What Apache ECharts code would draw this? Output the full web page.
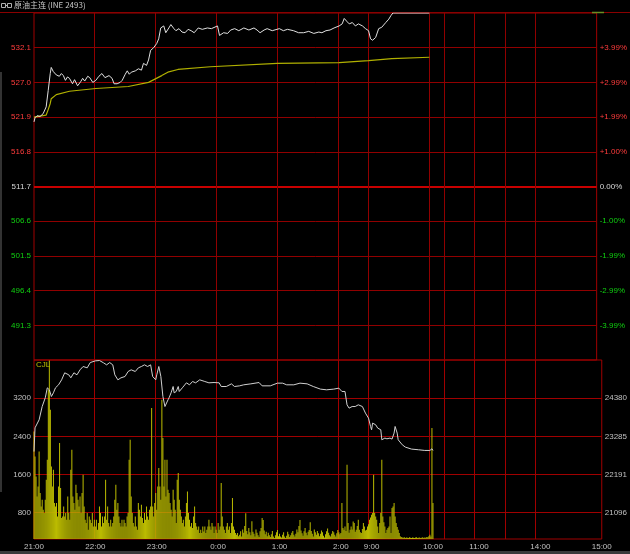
<!DOCTYPE html>
<html>
<head>
<meta charset="utf-8">
<script src="https://cdn.jsdelivr.net/npm/echarts@6/dist/echarts.min.js"></script>
<style>html,body{margin:0;padding:0;background:#000;}#c{width:630px;height:554px;}</style>
</head>
<body>
<div id="c"></div>
<script>
// ---------- DATA ----------
const baseClose = 511.7;
const priceTicks = [491.3, 496.4, 501.5, 506.6, 511.7, 516.8, 521.9, 527.0, 532.1];
const volumeTicks = [800, 1600, 2400, 3200];
const oiTicks = [21096, 22191, 23285, 24380];

const tickAt = ['21:00','22:00','23:00','0:00','1:00','2:00','2:30','10:00','11:00','14:00','15:00'];
const tickLabels = ['21:00','22:00','23:00','0:00','1:00','2:00','9:00','10:00','11:00','14:00','15:00'];
const gridAt = ['22:00','23:00','0:00','1:00','2:00','2:30','10:00','10:15','11:00','11:30','14:00'];

const priceTimes = ['21:00','21:01','21:03','21:06','21:09','21:12','21:14','21:16','21:17','21:19','21:20','21:22','21:25','21:27','21:29','21:31','21:33','21:35','21:38','21:40','21:43','21:46','21:48','21:50','21:53','21:55','21:58',
 '22:01','22:04','22:07','22:10','22:14','22:17','22:19','22:22','22:25','22:27','22:30','22:32','22:34','22:36','22:40','22:43','22:46','22:48','22:51','22:53','22:55','22:58',
 '23:01','23:03','23:05','23:08','23:10','23:13','23:15','23:18','23:20','23:23','23:26','23:29','23:32','23:35','23:38','23:42','23:46','23:51','23:55',
 '0:01','0:03','0:07','0:11','0:14','0:18','0:22','0:27','0:32','0:37','0:40','0:43','0:47','0:50','0:55',
 '1:02','1:06','1:10','1:16','1:21','1:26','1:31','1:36','1:41','1:44','1:48','1:52','1:56',
 '2:01','2:04','2:06','2:09','2:11','2:14','2:17','2:20','2:24','2:27','2:30',
 '9:02','9:04','9:07','9:10','9:13','9:17','9:20','9:22','9:24','10:00'];
const priceValues = [521.2,521.8,522.1,522.0,522.4,523.4,525.8,528.3,529.2,528.6,528.7,528.1,527.9,528.3,528.0,527.3,527.8,527.6,526.8,527.4,526.5,527.1,527.6,527.2,527.9,527.7,527.0,
 527.3,527.9,528.3,527.7,528.0,527.6,526.8,526.8,527.0,527.3,528.2,528.7,528.2,528.5,528.7,529.0,528.8,529.8,529.5,530.3,531.7,532.1,
 532.7,533.4,535.0,535.3,534.3,535.0,535.5,534.9,534.6,534.9,534.4,534.3,534.8,534.6,534.3,535.0,534.8,535.0,534.9,
 535.3,533.9,534.3,534.2,534.7,534.9,534.6,535.0,534.7,535.0,534.7,534.3,534.7,534.9,534.6,
 534.9,534.6,534.8,534.6,534.3,534.3,534.5,534.2,534.4,534.3,534.6,534.7,535.0,
 535.3,535.6,536.4,535.9,535.6,535.8,535.3,535.6,535.3,534.9,534.6,
 533.4,533.2,533.6,534.9,535.1,535.8,536.3,536.8,537.2,537.2];

const avgTimes = ['21:00','21:12','21:14','21:16','21:17','21:22','21:35','22:01','22:33','22:53','23:06','23:12','23:22','23:54','1:00','2:01','2:30','9:23','10:00'];
const avgValues = [521.9,522.2,523.0,523.9,524.6,525.2,525.7,526.1,526.4,527.0,528.0,528.5,528.9,529.3,529.8,529.9,530.2,530.5,530.7];

// volume per minute from 21:00 to 10:00
const volumes = [
 2503,1980,1561,1142,1352,2085,1212,933,1072,863,
 793,1072,1491,1910,3376,3990,2957,1770,1352,1701,
 1003,933,1003,723,1352,2259,1317,689,723,933,
 723,793,654,1142,793,654,1701,2119,1142,1003,
 863,1387,1212,1072,933,1142,793,1212,1596,933,
 654,584,793,444,723,654,584,793,514,654,
 514,654,444,584,933,793,514,723,584,723,
 1491,654,933,584,514,654,514,584,723,1072,
 1387,863,1003,723,584,514,654,514,654,584,
 514,723,793,1910,2329,1142,793,584,514,723,
 514,444,1003,863,723,968,689,584,793,654,
 933,723,654,863,933,2992,933,723,1003,1212,
 863,1352,1736,1352,1072,3166,2364,1352,1910,1142,
 1910,1282,1212,1003,863,723,1282,1072,863,584,
 1491,1631,1072,863,723,584,654,514,723,1003,
 1247,793,654,514,584,479,723,933,584,514,
 444,514,374,444,374,514,409,514,374,444,
 514,654,514,444,584,514,374,514,444,374,
 584,444,514,1421,723,514,444,374,514,584,
 444,514,374,584,1107,514,444,374,340,374,
 305,340,410,300,450,380,520,790,420,350,
 480,390,330,620,400,360,300,450,380,330,
 290,410,480,690,650,430,350,400,310,380,
 330,290,350,420,300,270,330,390,440,310,
 360,300,280,340,390,300,270,320,400,350,
 290,330,380,420,340,300,360,450,390,520,
 650,430,370,320,410,480,380,330,400,440,
 600,420,360,300,450,390,340,420,370,310,
 360,430,390,320,280,350,410,470,380,330,
 300,360,420,390,340,300,370,440,390,350,
 374,1003,480,444,514,420,1805,584,380,444,
 514,450,619,584,400,444,520,654,444,390,
 374,460,584,514,430,444,514,560,654,700,
 758,793,1596,793,723,654,514,374,584,793,
 1910,723,600,514,374,444,480,514,723,374,
 898,933,1003,723,584,500,444,374,305,290,
 280,275,285,270,280,275,270,285,275,270,
 280,275,270,280,285,270,275,280,270,275,
 285,270,280,275,290,285,305,340,300,2573,
 1003];

const oiTimes = ['21:00','21:01','21:05','21:08','21:11','21:13','21:15','21:17','21:19','21:21','21:24','21:27','21:30','21:34','21:36','21:39','21:42','21:45','21:48','21:52','21:55',
 '22:00','22:04','22:08','22:11','22:14','22:17','22:19','22:22','22:25','22:29','22:32','22:35','22:39','22:42','22:45','22:48','22:51','22:54','22:56','22:59',
 '23:00','23:02','23:03','23:04','23:06','23:08','23:09','23:11','23:12','23:14','23:16','23:17','23:19','23:21','23:22','23:25','23:29','23:32','23:35','23:38','23:42','23:47','23:51','23:56',
 '0:01','0:03','0:08','0:13','0:16','0:21','0:25','0:32','0:40','0:43','0:51','0:58',
 '1:03','1:07','1:14','1:20','1:27','1:33','1:40','1:46','1:53','1:58',
 '2:01','2:02','2:04','2:05','2:06','2:08','2:11','2:14','2:17','2:21','2:24','2:27','2:29','2:30',
 '9:01','9:04','9:06','9:09','9:10','9:13','9:15','9:18','9:20','9:22','9:23','9:25','9:26','9:30','9:33','9:39','9:46','9:52','9:57','9:59','10:00'];
const oiValues = [22850,23530,23760,24141,24391,24677,24620,24428,24534,24677,24763,24906,25107,25050,24964,25107,25050,25193,25288,25250,25402,
 25450,25460,25393,25336,25402,25336,25050,24906,24964,25002,25145,25193,25145,25250,25288,25336,25288,25336,25002,24906,
 25050,25288,25250,25002,24428,24141,24105,24333,24391,24534,24715,24534,24572,24715,24572,24677,24820,24763,24858,24820,24906,24858,24820,24829,
 24820,24715,24715,24791,24715,24734,24763,24791,24829,24734,24734,24811,
 24811,24763,24763,24811,24791,24715,24640,24620,24640,24668,
 24572,24525,24572,24525,24190,24095,24141,24141,24190,24141,23952,23809,23569,23474,
 23666,23617,23522,23474,23188,23236,23216,23236,23207,23379,23569,23379,23188,23044,22978,22921,22901,22882,22882,22930,22880];

const titleText = '原油主连 (INE 2493)';

// ---------- AXIS CATEGORIES (trading minutes) ----------
function buildMinutes() {
  const sessions = [[1260, 1590], [541, 615], [631, 690], [811, 900]];
  const out = [];
  sessions.forEach(([a, b]) => {
    for (let m = a; m <= b; m++) {
      const mm = m % 1440;
      const h = Math.floor(mm / 60), mi = mm % 60;
      out.push(h + ':' + (mi < 10 ? '0' : '') + mi);
    }
  });
  return out;
}
const minutes = buildMinutes();

const zip = (t, v) => t.map((x, i) => [x, v[i]]);
const pMin = baseClose - 25.5, pMax = baseClose + 25.5;
const vMin = 250, vMax = 4000;
const oiAt = v => 21096 + (v - 800) * (24380 - 21096) / 2400;

const FONT = 'Liberation Sans, Arial, sans-serif';
const upDownColor = v => (Math.abs(v - baseClose) < 1e-6 ? '#d8d8d8' : (v > baseClose ? '#ff3c3c' : '#10d010'));

const chart = echarts.init(document.getElementById('c'), null, { renderer: 'canvas' });

const xBase = {
  type: 'category', data: minutes, boundaryGap: false,
  axisLine: { show: false }, axisTick: { show: false },
  splitLine: { show: false }
};

const staticGraphics = [
  { type: 'line', shape: { x1: 0, y1: 12.5, x2: 630, y2: 12.5 }, style: { stroke: '#8a0000', lineWidth: 1 } },
  { type: 'line', shape: { x1: 592, y1: 12.5, x2: 604, y2: 12.5 }, style: { stroke: '#6b8e23', lineWidth: 1.5 }, z: 10 },
  { type: 'rect', shape: { x: 1.5, y: 3.5, width: 4, height: 4 }, style: { fill: 'none', stroke: '#b0b0b0', lineWidth: 1 } },
  { type: 'line', shape: { x1: 5.5, y1: 5.5, x2: 7.5, y2: 5.5 }, style: { stroke: '#b0b0b0', lineWidth: 1 } },
  { type: 'rect', shape: { x: 7.5, y: 3.5, width: 4, height: 4 }, style: { fill: 'none', stroke: '#b0b0b0', lineWidth: 1 } },
  { type: 'text', left: 14, top: 1, style: { text: titleText, fill: '#c8c8c8', fontSize: 8, fontFamily: 'Noto Sans CJK SC, ' + FONT } },
  { type: 'text', left: 36, top: 361, style: { text: 'CJL', fill: '#c0c000', fontSize: 8, fontFamily: FONT } },
  { type: 'rect', shape: { x: 0, y: 72, width: 2, height: 420 }, style: { fill: '#333' } },
  { type: 'rect', shape: { x: 0, y: 551, width: 630, height: 3 }, style: { fill: '#3a3a3a' } }
];

chart.setOption({
  backgroundColor: '#000',
  animation: false,
  grid: [
    { left: 34, right: 26, top: 13, height: 347, show: true, borderColor: '#a00000', borderWidth: 1 },
    { left: 34, right: 26, top: 360, height: 179, show: true, borderColor: '#a00000', borderWidth: 1 }
  ],
  xAxis: [
    Object.assign({}, xBase, { gridIndex: 0, axisLabel: { show: false } }),
    Object.assign({}, xBase, {
      gridIndex: 1,
      axisLabel: {
        show: true, interval: (i, v) => tickAt.includes(v),
        formatter: v => tickLabels[tickAt.indexOf(v)],
        color: '#c0c0c0', fontSize: 8, fontFamily: FONT, margin: 4
      }
    })
  ],
  yAxis: [
    { gridIndex: 0, type: 'value', position: 'left', min: pMin, max: pMax,
      axisLine: { show: false },
      axisTick: { show: false, customValues: priceTicks },
      axisLabel: { customValues: priceTicks, formatter: v => v.toFixed(1), color: v => upDownColor(v), fontSize: 8, fontFamily: FONT, margin: 3 },
      splitLine: { show: true, lineStyle: { color: '#900000', width: 1 } } },
    { gridIndex: 0, type: 'value', position: 'right', min: pMin, max: pMax,
      axisLine: { show: false },
      axisTick: { show: false, customValues: priceTicks },
      axisLabel: { customValues: priceTicks, color: v => upDownColor(v), fontSize: 8, fontFamily: FONT, margin: 3,
        formatter: v => { const p = (v - baseClose) / baseClose * 100; return (p > 0.0001 ? '+' : '') + p.toFixed(2) + '%'; } },
      splitLine: { show: false } },
    { gridIndex: 0, type: 'value', position: 'left', min: pMin, max: pMax,
      axisLine: { show: false },
      axisTick: { show: false, customValues: [baseClose] },
      axisLabel: { show: false },
      splitLine: { show: true, lineStyle: { color: '#c80000', width: 2 } } },
    { gridIndex: 1, type: 'value', position: 'left', min: vMin, max: vMax,
      axisLine: { show: false },
      axisTick: { show: false, customValues: volumeTicks },
      axisLabel: { customValues: volumeTicks, color: '#c0c0c0', fontSize: 8, fontFamily: FONT, margin: 3, formatter: v => String(Math.round(v)) },
      splitLine: { show: true, lineStyle: { color: '#a00000', width: 1 } } },
    { gridIndex: 1, type: 'value', position: 'right', min: oiAt(vMin), max: oiAt(vMax),
      axisLine: { show: false },
      axisTick: { show: false, customValues: oiTicks },
      axisLabel: { customValues: oiTicks, color: '#c0c0c0', fontSize: 8, fontFamily: FONT, margin: 3, formatter: v => String(Math.round(v)) },
      splitLine: { show: false } }
  ],
  series: [
    { type: 'bar', xAxisIndex: 1, yAxisIndex: 3, data: volumes, barWidth: 1, itemStyle: { color: '#bcbc00' }, z: 2 },
    { type: 'line', xAxisIndex: 1, yAxisIndex: 4, data: zip(oiTimes, oiValues), showSymbol: false, lineStyle: { color: '#d0d0d0', width: 1 }, z: 3 },
    { type: 'line', xAxisIndex: 0, yAxisIndex: 0, data: zip(avgTimes, avgValues), showSymbol: false, lineStyle: { color: '#b0b000', width: 1.2 }, z: 3 },
    { type: 'line', xAxisIndex: 0, yAxisIndex: 0, data: zip(priceTimes, priceValues), showSymbol: false, lineStyle: { color: '#e0e0e0', width: 1 }, z: 4 }
  ],
  graphic: staticGraphics
});

// crisp vertical session grid lines, positioned by the x axis scale
const vLines = [];
gridAt.forEach(t => {
  const px = chart.convertToPixel({ xAxisIndex: 0 }, minutes.indexOf(t));
  const x = Math.round(px - 0.5) + 0.5;
  vLines.push({ type: 'line', z: 0, silent: true, shape: { x1: x, y1: 13, x2: x, y2: 360 }, style: { stroke: '#900000', lineWidth: 1 } });
  vLines.push({ type: 'line', z: 0, silent: true, shape: { x1: x, y1: 360, x2: x, y2: 539 }, style: { stroke: '#a00000', lineWidth: 1 } });
});
chart.setOption({ graphic: staticGraphics.concat(vLines) }, { replaceMerge: ['graphic'] });
</script>
</body>
</html>
